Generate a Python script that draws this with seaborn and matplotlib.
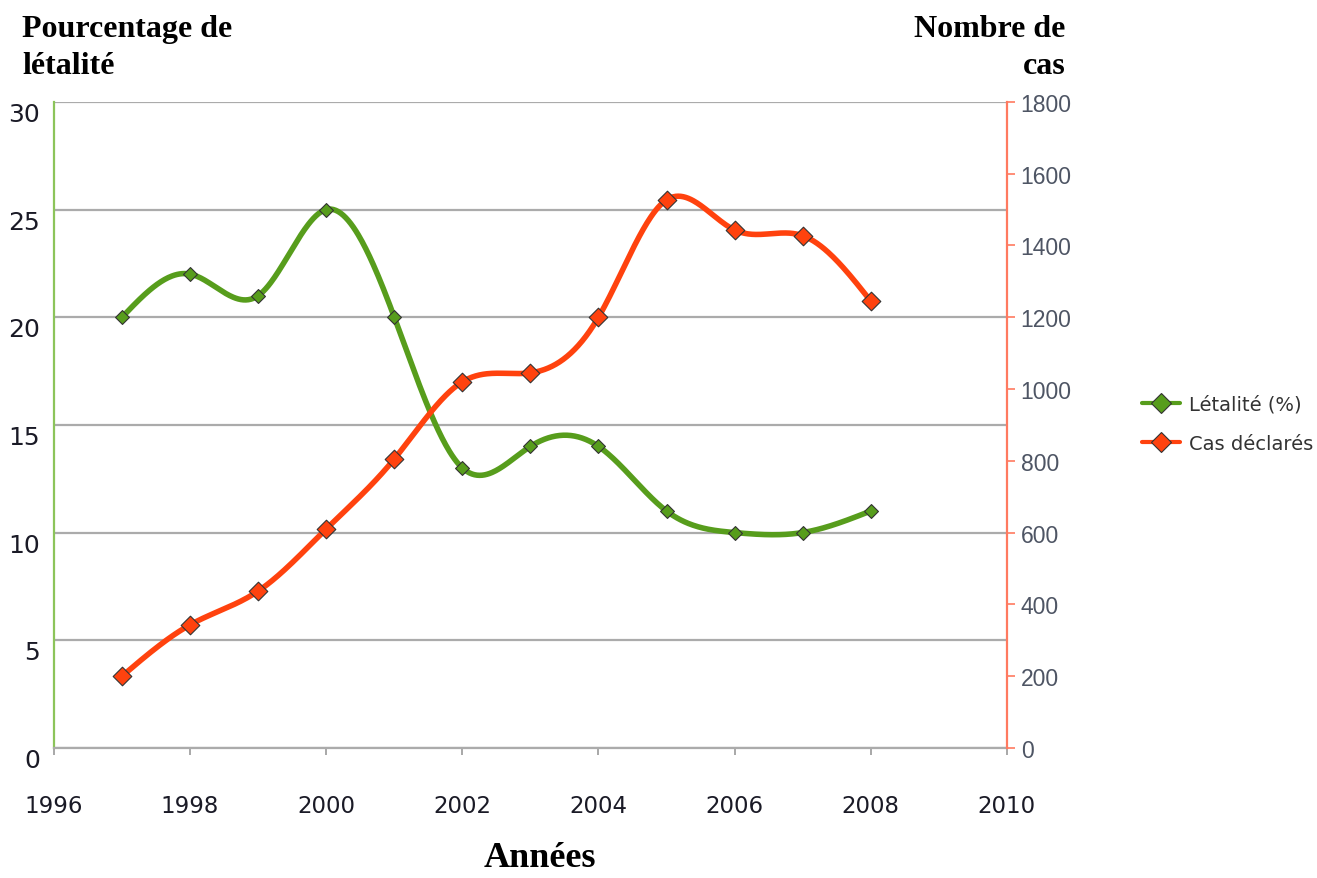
import numpy as np
import pandas as pd
import matplotlib
matplotlib.use("Agg")
import matplotlib.pyplot as plt
from matplotlib.lines import Line2D
import seaborn as sns

# data
years = [1997, 1998, 1999, 2000, 2001, 2002, 2003, 2004, 2005, 2006, 2007, 2008]
letalite = [20, 22, 21, 25, 20, 13, 14, 14, 11, 10, 10, 11]
cas_declares = [200, 343, 437, 610, 805, 1020, 1045, 1200, 1527, 1443, 1427, 1245]

left_ticks = [0, 5, 10, 15, 20, 25, 30]
right_ticks = [0, 200, 400, 600, 800, 1000, 1200, 1400, 1600, 1800]
x_ticks = [1996, 1998, 2000, 2002, 2004, 2006, 2008, 2010]

GREEN = "#579d1c"
ORANGE = "#ff420e"


def natural_spline(x, y, n=600):
    """Natural cubic spline through the points (smooth line like the original)."""
    x = np.asarray(x, dtype=float)
    y = np.asarray(y, dtype=float)
    k = len(x)
    h = np.diff(x)
    A = np.zeros((k, k))
    b = np.zeros(k)
    A[0, 0] = 1.0
    A[-1, -1] = 1.0
    for i in range(1, k - 1):
        A[i, i - 1] = h[i - 1]
        A[i, i] = 2 * (h[i - 1] + h[i])
        A[i, i + 1] = h[i]
        b[i] = 6 * ((y[i + 1] - y[i]) / h[i] - (y[i] - y[i - 1]) / h[i - 1])
    m = np.linalg.solve(A, b)
    xs = np.linspace(x[0], x[-1], n)
    idx = np.clip(np.searchsorted(x, xs) - 1, 0, k - 2)
    x0, x1 = x[idx], x[idx + 1]
    hh = x1 - x0
    t0, t1 = x1 - xs, xs - x0
    ys = (m[idx] * t0 ** 3 + m[idx + 1] * t1 ** 3) / (6 * hh) \
        + (y[idx] / hh - m[idx] * hh / 6) * t0 + (y[idx + 1] / hh - m[idx + 1] * hh / 6) * t1
    return xs, ys


sns.set_theme(style="white")
plt.rcParams["font.family"] = ["DejaVu Sans"]

fig = plt.figure(figsize=(13.17, 8.79), dpi=100)
ax = fig.add_axes([0.041, 0.148, 0.7235, 0.735])
ax2 = ax.twinx()

df = pd.DataFrame({"annee": years, "letalite": letalite, "cas": cas_declares})

# smooth curves
xs, ys = natural_spline(years, letalite)
sns.lineplot(x=xs, y=ys, ax=ax, color=GREEN, linewidth=4.0, zorder=3)
sns.scatterplot(data=df, x="annee", y="letalite", ax=ax, marker="D", s=50,
                color=GREEN, edgecolor="#333333", linewidth=0.8, zorder=4)

xs2, ys2 = natural_spline(years, cas_declares)
sns.lineplot(x=xs2, y=ys2, ax=ax2, color=ORANGE, linewidth=4.0, zorder=3)
sns.scatterplot(data=df, x="annee", y="cas", ax=ax2, marker="D", s=90,
                color=ORANGE, edgecolor="#333333", linewidth=0.8, zorder=4)

ax.set_xlim(1996, 2010)
ax.set_ylim(0, 30)
ax2.set_ylim(0, 1800)

ax.set_xticks(x_ticks)
ax.set_yticks(left_ticks)
ax2.set_yticks(right_ticks)
ax.set_xlabel("")
ax.set_ylabel("")
ax2.set_ylabel("")

ax.grid(axis="y", color="#ababab", linewidth=1.6)
ax.grid(axis="x", visible=False)
ax2.grid(False)
ax.set_axisbelow(True)

for sp in ["top", "right"]:
    ax.spines[sp].set_visible(False)
ax2.spines["top"].set_visible(False)
ax2.spines["bottom"].set_visible(False)
ax2.spines["left"].set_visible(False)
ax.spines["left"].set_color("#8cc45a")
ax.spines["left"].set_linewidth(1.6)
ax.spines["bottom"].set_color("#ababab")
ax.spines["bottom"].set_linewidth(1.6)
ax2.spines["right"].set_color("#ff7a60")
ax2.spines["right"].set_linewidth(1.6)

ax.tick_params(axis="x", bottom=True, direction="out", length=5, width=1.2,
               color="#999999", pad=28, labelsize=16.5, labelcolor="#1a1a26")
ax.tick_params(axis="y", left=False, pad=4, labelsize=18, labelcolor="#1a1a26")
for lab in ax.get_yticklabels():
    lab.set_verticalalignment("top")
ax2.tick_params(axis="y", right=True, direction="out", length=6, width=1.2,
                color="#ff7a60", pad=4, labelsize=16.5, labelcolor="#4e5564")
for lab in ax2.get_yticklabels():
    lab.set_fontfamily("Liberation Sans")

# titles
serif = dict(family="Liberation Serif", fontweight="bold", color="black")
fig.text(0.017, 0.945, "Pourcentage de\nlétalité", fontsize=23, ha="left", va="center",
         linespacing=1.35, **serif)
fig.text(0.809, 0.945, "Nombre de\ncas", fontsize=23, ha="right", va="center",
         linespacing=1.35, **serif)
fig.text(0.41, 0.014, "Années", fontsize=26, ha="center", va="baseline", **serif)

# legend
handles = [
    Line2D([0], [0], color=GREEN, lw=3, marker="D", markersize=10,
           markerfacecolor=GREEN, markeredgecolor="#333333", markeredgewidth=0.8),
    Line2D([0], [0], color=ORANGE, lw=3, marker="D", markersize=10,
           markerfacecolor=ORANGE, markeredgecolor="#333333", markeredgewidth=0.8),
]
fig.legend(handles, ["Létalité (%)", "Cas déclarés"], loc="center left",
           bbox_to_anchor=(0.867, 0.5165), frameon=False, fontsize=14,
           handlelength=1.95, handletextpad=0.45, labelspacing=1.05,
           borderpad=0, borderaxespad=0, labelcolor="#333333")

fig.savefig("out.png", dpi=100)
plt.close(fig)
